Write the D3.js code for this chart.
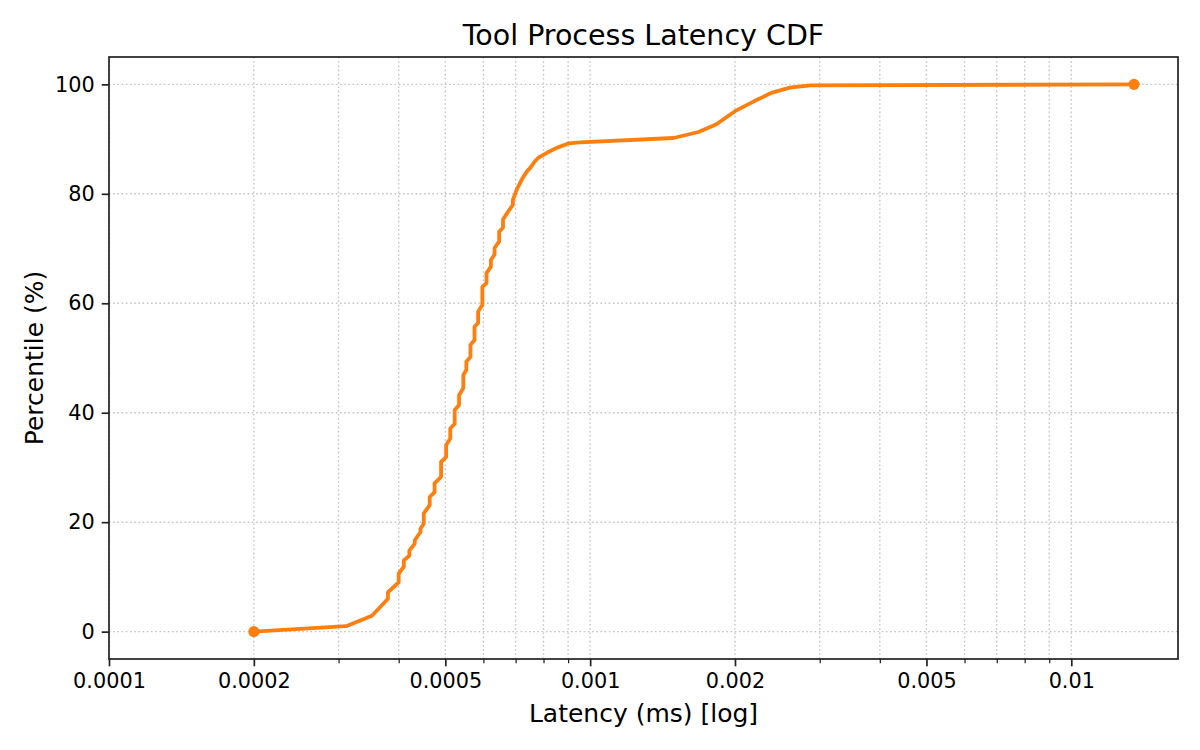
<!DOCTYPE html>
<html>
<head>
<meta charset="utf-8">
<script src="https://cdn.jsdelivr.net/npm/d3@7"></script>
<style>
  body { margin: 0; background: #fff; }
  svg { font-family: "DejaVu Sans", sans-serif; }
</style>
</head>
<body>
<script>
// latency (ms) and percentile
var latency = [
  0.0002, 0.000311, 0.000352, 0.00038, 0.00038, 0.0004, 0.0004, 0.00041, 0.00041,
  0.000421, 0.000421, 0.000432, 0.000432, 0.000444, 0.000444, 0.000451, 0.000451,
  0.000464, 0.000464, 0.000475, 0.000475, 0.00049, 0.00049, 0.000502, 0.000502,
  0.000512, 0.000512, 0.000523, 0.000523, 0.000534, 0.000534, 0.000545, 0.000545,
  0.000553, 0.000553, 0.000564, 0.000564, 0.000575, 0.000575, 0.000585, 0.000585,
  0.000597, 0.000597, 0.000609, 0.000609, 0.000622, 0.000622, 0.000633, 0.000633,
  0.000647, 0.000647, 0.000659, 0.000659, 0.000676, 0.000691, 0.000691, 0.000704,
  0.000721, 0.000739, 0.00075, 0.000769, 0.000781, 0.000813, 0.000852, 0.000901,
  0.000953, 0.00149, 0.00168, 0.00183, 0.002, 0.00219, 0.00239, 0.0026, 0.00287, 0.0135
];
var percentile = [
  0, 1.0, 2.9, 6.0, 7.2, 9.0, 10.6, 11.9, 13.0,
  13.9, 14.8, 16.1, 16.7, 18.2, 18.8, 19.7, 21.6,
  23.1, 24.6, 25.5, 27.1, 28.3, 31.0, 31.9, 34.1,
  35.3, 37.1, 38.0, 40.5, 41.4, 43.2, 44.5, 46.9,
  47.8, 49.3, 50.2, 52.4, 53.3, 55.7, 56.4, 58.5,
  59.7, 63.0, 63.7, 65.5, 66.7, 67.9, 68.9, 70.1,
  71.3, 73.1, 73.8, 75.3, 76.8, 78.0, 78.9, 80.8,
  82.6, 84.1, 84.7, 86.0, 86.6, 87.5, 88.4, 89.2,
  89.4, 90.2, 91.3, 92.7, 95.1, 96.9, 98.5, 99.4, 99.8, 100
];
var xMajorTicks = [0.0001, 0.0002, 0.0005, 0.001, 0.002, 0.005, 0.01];
var xTickLabels = ['0.0001', '0.0002', '0.0005', '0.001', '0.002', '0.005', '0.01'];
var xMinorTicks = [0.0003, 0.0004, 0.0006, 0.0007, 0.0008, 0.0009,
                   0.003, 0.004, 0.006, 0.007, 0.008, 0.009];
var yTicks = [0, 20, 40, 60, 80, 100];

var W = 1200, H = 750;
var mLeft = 109, mRight = 1178, mTop = 57, mBottom = 659;

var data = latency.map(function(v, i) { return { x: v, y: percentile[i] }; });

// x limits like matplotlib: fixed left, 5% log margin on the right
var lmin = Math.log10(d3.min(latency)), lmax = Math.log10(d3.max(latency));
var xMax = Math.pow(10, lmax + 0.05 * (lmax - lmin));

var x = d3.scaleLog().domain([0.0001, xMax]).range([mLeft, mRight]);
var y = d3.scaleLinear().domain([-5, 105]).range([mBottom, mTop]);

var svg = d3.select('body').append('svg').attr('width', W).attr('height', H);

// grid
var grid = svg.append('g').attr('stroke', '#c4c4c4').attr('stroke-width', 1.4)
  .attr('stroke-dasharray', '1.6,2.6');
grid.selectAll('line.gx').data(xMajorTicks.concat(xMinorTicks)).enter().append('line')
  .attr('x1', function(d) { return x(d); }).attr('x2', function(d) { return x(d); })
  .attr('y1', mTop).attr('y2', mBottom);
grid.selectAll('line.gy').data(yTicks).enter().append('line')
  .attr('x1', mLeft).attr('x2', mRight)
  .attr('y1', function(d) { return y(d); }).attr('y2', function(d) { return y(d); });

// curve
svg.append('path').datum(data)
  .attr('fill', 'none').attr('stroke', '#ff7f0e').attr('stroke-width', 3.8)
  .attr('stroke-linejoin', 'round')
  .attr('d', d3.line().x(function(d) { return x(d.x); }).y(function(d) { return y(d.y); }));

svg.selectAll('circle.end').data([data[0], data[data.length - 1]]).enter().append('circle')
  .attr('cx', function(d) { return x(d.x); }).attr('cy', function(d) { return y(d.y); })
  .attr('r', 5.6).attr('fill', '#ff7f0e');

// frame
svg.append('rect').attr('x', mLeft).attr('y', mTop)
  .attr('width', mRight - mLeft).attr('height', mBottom - mTop)
  .attr('fill', 'none').attr('stroke', '#222').attr('stroke-width', 1.7);

// axes
var xAxis = d3.axisBottom(x).tickValues(xMajorTicks).tickSize(7.3).tickPadding(7)
  .tickFormat(function(d, i) { return xTickLabels[i]; });
var gx = svg.append('g').attr('transform', 'translate(0,' + mBottom + ')').call(xAxis);
var gxm = svg.append('g').attr('transform', 'translate(0,' + mBottom + ')')
  .call(d3.axisBottom(x).tickValues(xMinorTicks).tickSize(4.2).tickFormat(''));
gxm.selectAll('.tick line').attr('stroke-width', 1.25);

var gy = svg.append('g').attr('transform', 'translate(' + mLeft + ',0)')
  .call(d3.axisLeft(y).tickValues(yTicks).tickSize(7.3).tickPadding(7));

[gx, gxm, gy].forEach(function(g) {
  g.select('.domain').remove();
  g.selectAll('.tick line').attr('stroke', '#222');
  g.selectAll('.tick line').filter(function() { return !this.getAttribute('stroke-width'); })
    .attr('stroke-width', 1.7);
  g.selectAll('text').attr('font-family', '"DejaVu Sans", sans-serif')
    .attr('font-size', 20.8).attr('fill', '#000');
});

// labels
svg.append('text').attr('x', (mLeft + mRight) / 2).attr('y', 45)
  .attr('text-anchor', 'middle').attr('font-size', 28.5).text('Tool Process Latency CDF');
svg.append('text').attr('x', (mLeft + mRight) / 2).attr('y', 722)
  .attr('text-anchor', 'middle').attr('font-size', 25).text('Latency (ms) [log]');
svg.append('text').attr('transform', 'translate(43,' + ((mTop + mBottom) / 2) + ') rotate(-90)')
  .attr('text-anchor', 'middle').attr('font-size', 25).text('Percentile (%)');
</script>
</body>
</html>
